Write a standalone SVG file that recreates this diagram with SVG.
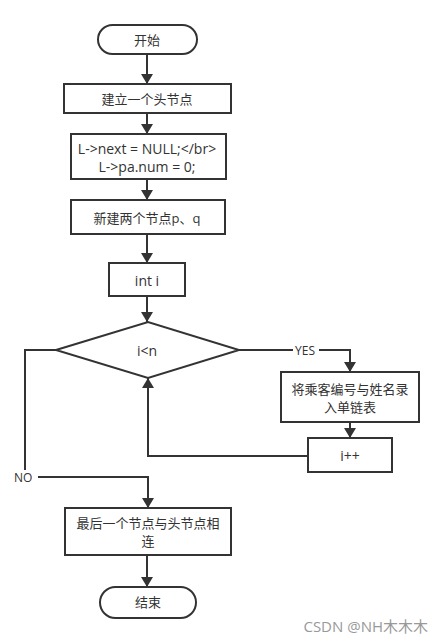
<svg xmlns="http://www.w3.org/2000/svg" width="444" height="644" viewBox="0 0 444 644">
<style>
.n{fill:#fff;stroke:#333;stroke-width:2}
.t{font-family:"Open Sans","Noto Sans CJK SC",sans-serif;font-size:13px;fill:#333;text-anchor:middle;dominant-baseline:central}
.e{font-size:14px}
.c{fill:none;stroke:#333;stroke-width:2}
.l{font-family:"Open Sans","Noto Sans CJK SC",sans-serif;font-size:12px;fill:#333;dominant-baseline:central}
</style>
<defs>
<marker id="a" viewBox="0 0 10 12" refX="10" refY="6" markerWidth="10" markerHeight="12" markerUnits="userSpaceOnUse" orient="auto">
<path d="M0,0 L10,6 L0,12 Z" fill="#333"/>
</marker>
</defs>
<rect width="444" height="644" fill="#fff"/>
<g id="connectors">
<path class="c" d="M147,54 V84" marker-end="url(#a)"/>
<path class="c" d="M147,113 V134" marker-end="url(#a)"/>
<path class="c" d="M147,179 V200" marker-end="url(#a)"/>
<path class="c" d="M147,234 V263" marker-end="url(#a)"/>
<path class="c" d="M147,296 V322" marker-end="url(#a)"/>
<path class="c" d="M239,350 H293 M319,350 H350 V372" marker-end="url(#a)"/>
<path class="c" d="M350,422 V438" marker-end="url(#a)"/>
<path class="c" d="M308,456 H148 V378" marker-end="url(#a)"/>
<path class="c" d="M56,350 H25 V470 M38,477 H148 V508" marker-end="url(#a)"/>
<path class="c" d="M147,555 V587" marker-end="url(#a)"/>
<text class="l" x="295" y="350">YES</text>
<text class="l" x="14" y="477">NO</text>
</g>
<g id="start"><rect class="n" x="98" y="25" width="99" height="29" rx="14.5"/><text class="t" x="147" y="40">开始</text></g>
<g id="head"><rect class="n" x="64" y="84" width="167" height="29"/><text class="t" x="147" y="99">建立一个头节点</text></g>
<g id="init"><rect class="n" x="71" y="134" width="155" height="45"/><text class="t e" x="147" y="148">L-&gt;next = NULL;&lt;/br&gt;</text><text class="t e" x="147" y="166">L-&gt;pa.num = 0;</text></g>
<g id="newpq"><rect class="n" x="71" y="200" width="154" height="34"/><text class="t" x="147" y="218">新建两个节点p、q</text></g>
<g id="inti"><rect class="n" x="109" y="263" width="76" height="33"/><text class="t e" x="147" y="280">int i</text></g>
<g id="cond"><path class="n" d="M56,350 L148,322 L239,350 L148,378 Z"/><text class="t e" x="147" y="350">i&lt;n</text></g>
<g id="input"><rect class="n" x="281" y="372" width="138" height="50"/><text class="t" x="350" y="389">将乘客编号与姓名录</text><text class="t" x="350" y="407">入单链表</text></g>
<g id="inc"><rect class="n" x="308" y="438" width="84" height="34"/><text class="t e" x="350" y="455">i++</text></g>
<g id="link"><rect class="n" x="65" y="508" width="166" height="47"/><text class="t" x="148" y="523">最后一个节点与头节点相</text><text class="t" x="148" y="541">连</text></g>
<g id="end"><rect class="n" x="100" y="587" width="96" height="31" rx="15.5"/><text class="t" x="148" y="602">结束</text></g>
<text x="428" y="626" text-anchor="end" font-family="Open Sans,Noto Sans CJK SC,sans-serif" font-size="15" fill="#999" dominant-baseline="central">CSDN @NH木木木</text>
</svg>
